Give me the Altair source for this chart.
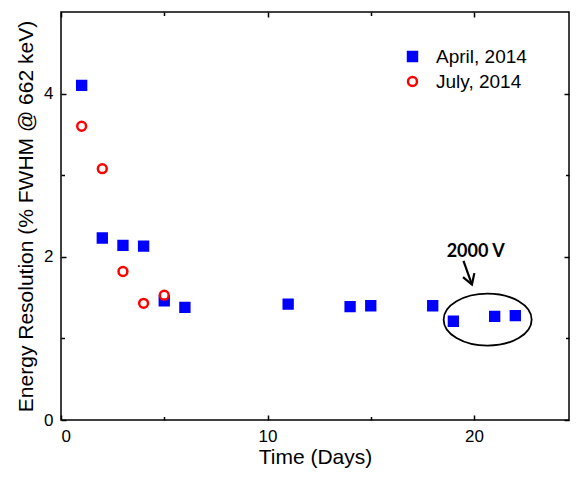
import altair as alt
import pandas as pd

# ---- data ----
series = ["April, 2014", "July, 2014"]
april_days = [1, 2, 3, 4, 5, 6, 11, 14, 15, 18, 19, 21, 22]
april_res = [4.10, 2.23, 2.14, 2.13, 1.46, 1.38, 1.42, 1.39, 1.40, 1.40, 1.21, 1.27, 1.28]
july_days = [1, 2, 3, 4, 5]
july_res = [3.60, 3.08, 1.82, 1.43, 1.53]

x_domain = [0, 24.6]
y_domain = [0, 5]
x_major = [0, 10, 20]
x_minor = [5, 15]
y_major = [0, 2, 4]
y_minor = [1, 3]

note_text = ["2000 V"]
note_x = [20.08]
note_y = [2.00]
arrow_x = [19.49]
arrow_y = [1.95]
arrow_x2 = [19.90]
arrow_y2 = [1.66]
ellipse_x = [20.66]
ellipse_y = [1.23]

W, H = 508, 408
FONT = "Liberation Sans"

df = pd.DataFrame({
    "day": april_days + july_days,
    "res": april_res + july_res,
    "series": [series[0]] * len(april_days) + [series[1]] * len(july_days),
})
note_df = pd.DataFrame({"x": note_x, "y": note_y, "t": note_text})
arrow_df = pd.DataFrame({"x": arrow_x, "y": arrow_y, "x2": arrow_x2, "y2": arrow_y2})
ell_df = pd.DataFrame({"x": ellipse_x, "y": ellipse_y})

xs = alt.Scale(domain=x_domain, nice=False, zero=False)
ys = alt.Scale(domain=y_domain, nice=False, zero=False)


def tick_axis(orient, values, size, offset):
    return alt.Axis(orient=orient, values=values, tickSize=size, offset=offset,
                    labels=False, domain=False, grid=False, title=None,
                    tickColor="black", tickWidth=1.5)


leg = alt.Legend(orient="none", legendX=342, legendY=35, padding=0, title=None,
                 labelFontSize=19, labelFont=FONT, labelColor="black",
                 symbolSize=80, symbolStrokeWidth=2.5, rowPadding=5, labelOffset=14)

pts = alt.Chart(df).mark_point(strokeWidth=2.5, opacity=1, size=78).encode(
    x=alt.X("day:Q", scale=xs, axis=alt.Axis(
        orient="bottom", values=x_major, ticks=False, tickSize=0, domain=False, grid=False,
        labelFontSize=17, labelPadding=8, title="Time (Days)", titleFontSize=21,
        titleFontWeight="normal", titlePadding=2)),
    y=alt.Y("res:Q", scale=ys, axis=alt.Axis(
        orient="left", values=y_major, ticks=False, tickSize=0, domain=False, grid=False,
        labelFontSize=17, labelPadding=8, title="Energy Resolution (% FWHM @ 662 keV)",
        titleFontSize=21, titleFontWeight="normal", titlePadding=7)),
    color=alt.Color("series:N", scale=alt.Scale(domain=series, range=["#0000ff", "#ff0000"]), legend=leg),
    fill=alt.Fill("series:N", scale=alt.Scale(domain=series, range=["#0000ff", "#ffffff"]), legend=leg),
    shape=alt.Shape("series:N", scale=alt.Scale(domain=series, range=["square", "circle"]), legend=leg),
)

txt = alt.Chart(note_df).mark_text(font="Lato", fontWeight="bold", fontSize=18, color="black",
                                   baseline="alphabetic").encode(
    x=alt.X("x:Q", scale=xs, axis=tick_axis("top", x_major, 5, -H)),
    y=alt.Y("y:Q", scale=ys, axis=tick_axis("right", y_major, 5, -W)),
    text="t:N",
)

ell = alt.Chart(ell_df).mark_point(
    shape="M -1 0 A 1 0.59 0 1 1 1 0 A 1 0.59 0 1 1 -1 0 Z", size=7744,
    strokeWidth=1.8, filled=False, color="black", opacity=1).encode(
    x=alt.X("x:Q", scale=xs, axis=tick_axis("bottom", x_major, 5, -H)),
    y=alt.Y("y:Q", scale=ys, axis=tick_axis("left", y_major, 5, -W)),
)

arrow = alt.Chart(arrow_df).mark_rule(strokeWidth=2.2, color="black").encode(
    x=alt.X("x:Q", scale=xs, axis=tick_axis("top", x_minor, 3.5, -H)),
    y=alt.Y("y:Q", scale=ys, axis=tick_axis("right", y_minor, 3.5, -W)),
    x2="x2:Q", y2="y2:Q",
)

head = alt.Chart(arrow_df).mark_point(
    shape="M -0.6 -1 L 0 0 L 0.6 -1", size=400, angle=341, strokeWidth=2.2,
    filled=False, color="black", opacity=1).encode(
    x=alt.X("x2:Q", scale=xs, axis=tick_axis("bottom", x_minor, 3.5, -H)),
    y=alt.Y("y2:Q", scale=ys, axis=tick_axis("left", y_minor, 3.5, -W)),
)

chart = alt.layer(pts, txt, ell, arrow, head).resolve_axis(
    x="independent", y="independent"
).properties(
    width=W, height=H,
    padding={"left": 53, "top": 4, "right": 1, "bottom": 52},
    autosize=alt.AutoSizeParams(type="none"),
).configure_view(
    stroke="black", strokeWidth=1.5
).configure_axis(
    labelFont=FONT, titleFont=FONT, labelColor="black", titleColor="black"
)

chart.save("out.html", embed_options={"renderer": "svg", "actions": False})
